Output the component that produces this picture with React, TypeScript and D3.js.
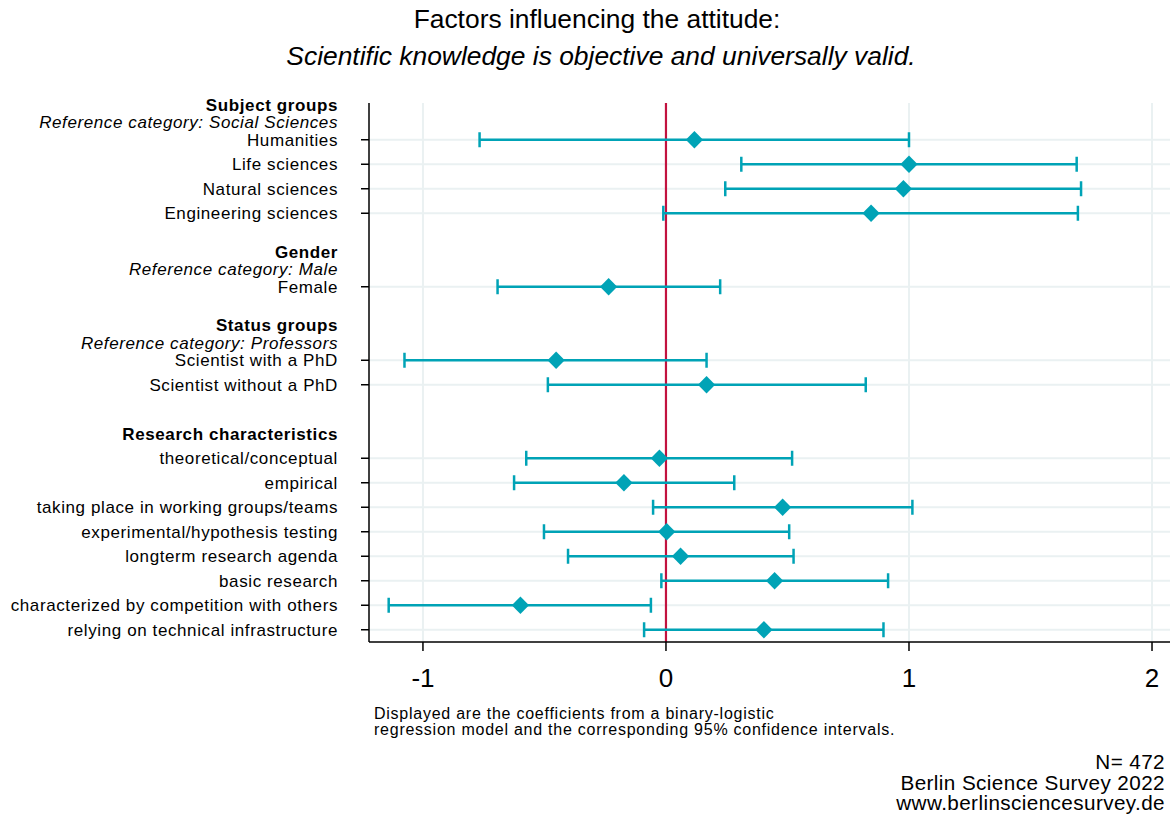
import React from "react";
import * as d3 from "d3";

// Coefficients of the binary-logistic regression with 95% confidence bounds
const labels = [
  "Humanities",
  "Life sciences",
  "Natural sciences",
  "Engineering sciences",
  "Female",
  "Scientist with a PhD",
  "Scientist without a PhD",
  "theoretical/conceptual",
  "empirical",
  "taking place in working groups/teams",
  "experimental/hypothesis testing",
  "longterm research agenda",
  "basic research",
  "characterized by competition with others",
  "relying on technical infrastructure",
];
const rows = [0, 1, 2, 3, 6, 9, 10, 13, 14, 15, 16, 17, 18, 19, 20];
const estimates = [0.117, 1.0, 0.977, 0.844, -0.236, -0.452, 0.167, -0.027, -0.173, 0.48, 0.003, 0.06, 0.447, -0.599, 0.403];
const lower = [-0.767, 0.31, 0.244, -0.011, -0.693, -1.076, -0.486, -0.575, -0.625, -0.053, -0.502, -0.403, -0.019, -1.141, -0.09];
const upper = [1.0, 1.69, 1.708, 1.695, 0.223, 0.167, 0.822, 0.519, 0.281, 1.014, 0.507, 0.525, 0.914, -0.062, 0.895];

// Group headings: heading row anchors the label block
const groupNames = ["Subject groups", "Gender", "Status groups", "Research characteristics"];
const groupRefs = ["Reference category: Social Sciences", "Reference category: Male", "Reference category: Professors", ""];
const groupRows = [0, 6, 9, 12];

const xTicks = [-1, 0, 1, 2];
const xGrid = [-1, 1, 2];

const noteLines = [
  "Displayed are the coefficients from a binary-logistic",
  "regression model and the corresponding 95% confidence intervals.",
];
const sourceLines = ["N= 472", "Berlin Science Survey 2022", "www.berlinsciencesurvey.de"];

const W = 1170;
const H = 816;
const FONT = "Liberation Sans, Arial, Helvetica, sans-serif";
const TEAL = "#00a3b6";
const RED = "#c2123f";
const GRID = "#eaf1f2";

export default function App() {
  const x = d3.scaleLinear().domain([-1.222, 2.074]).range([369, 1170]);
  const y = d3.scaleLinear().domain([-1.5, 20.5]).range([103, 642]);
  const left = x.range()[0];
  const bottom = y.range()[1];
  const top = y.range()[0];
  const labelX = 338;
  const lineH = 17.5;
  const labelSize = 17;
  const labelSpacing = 0.6;
  const diamond = d3.symbol().type(d3.symbolDiamond2).size(190)();

  return (
    <svg width={W} height={H} style={{ position: "absolute", left: 0, top: 0, background: "#fff" }} fontFamily={FONT}>
      {/* title */}
      <text x={597} y={28} textAnchor="middle" fontSize={26.4}>
        Factors influencing the attitude:
      </text>
      <text x={601} y={65} textAnchor="middle" fontSize={26.4} fontStyle="italic">
        Scientific knowledge is objective and universally valid.
      </text>

      {/* gridlines */}
      {rows.map((r) => (
        <line key={"g" + r} x1={left} x2={x.range()[1]} y1={y(r)} y2={y(r)} stroke={GRID} strokeWidth={2} />
      ))}
      {xGrid.map((v) => (
        <line key={"v" + v} x1={x(v)} x2={x(v)} y1={top} y2={bottom} stroke={GRID} strokeWidth={2} />
      ))}

      {/* zero reference line */}
      <line x1={x(0)} x2={x(0)} y1={top} y2={bottom} stroke={RED} strokeWidth={2.2} />

      {/* confidence intervals and point estimates */}
      {labels.map((lab, i) => {
        const yy = y(rows[i]);
        return (
          <g key={lab}>
            <line x1={x(lower[i])} x2={x(upper[i])} y1={yy} y2={yy} stroke={TEAL} strokeWidth={2.5} />
            <line x1={x(lower[i])} x2={x(lower[i])} y1={yy - 7.5} y2={yy + 7.5} stroke={TEAL} strokeWidth={2.5} />
            <line x1={x(upper[i])} x2={x(upper[i])} y1={yy - 7.5} y2={yy + 7.5} stroke={TEAL} strokeWidth={2.5} />
            <path d={diamond} transform={`translate(${x(estimates[i])},${yy})`} fill={TEAL} />
          </g>
        );
      })}

      {/* axes */}
      <line x1={left} x2={left} y1={top} y2={bottom} stroke="#000" strokeWidth={1.5} />
      <line x1={left} x2={x.range()[1]} y1={bottom} y2={bottom} stroke="#000" strokeWidth={1.5} />
      {rows.map((r) => (
        <line key={"t" + r} x1={left - 8} x2={left} y1={y(r)} y2={y(r)} stroke="#000" strokeWidth={1.5} />
      ))}
      {xTicks.map((v) => (
        <g key={"xt" + v}>
          <line x1={x(v)} x2={x(v)} y1={bottom} y2={bottom + 9} stroke="#000" strokeWidth={1.5} />
          <text x={x(v)} y={687} textAnchor="middle" fontSize={26}>
            {v}
          </text>
        </g>
      ))}

      {/* row labels */}
      {labels.map((lab, i) => (
        <text key={"l" + lab} x={labelX} y={y(rows[i])} dy="0.35em" textAnchor="end" fontSize={labelSize} letterSpacing={labelSpacing}>
          {lab}
        </text>
      ))}
      {groupNames.map((g, i) => {
        const yy = y(groupRows[i]);
        const hasRef = groupRefs[i] !== "";
        return (
          <g key={g}>
            <text x={labelX} y={hasRef ? yy - 2 * lineH : yy} dy="0.35em" textAnchor="end" fontSize={labelSize} fontWeight="bold" letterSpacing={labelSpacing}>
              {g}
            </text>
            {hasRef && (
              <text x={labelX} y={yy - lineH} dy="0.35em" textAnchor="end" fontSize={labelSize} fontStyle="italic" letterSpacing={labelSpacing}>
                {groupRefs[i]}
              </text>
            )}
          </g>
        );
      })}

      {/* note */}
      {noteLines.map((t, i) => (
        <text key={t} x={374} y={719 + i * 16} fontSize={16} letterSpacing={0.75}>
          {t}
        </text>
      ))}

      {/* source */}
      {sourceLines.map((t, i) => (
        <text key={t} x={1165} y={769 + i * 20.7} textAnchor="end" fontSize={20.7} letterSpacing={0.4}>
          {t}
        </text>
      ))}
    </svg>
  );
}
